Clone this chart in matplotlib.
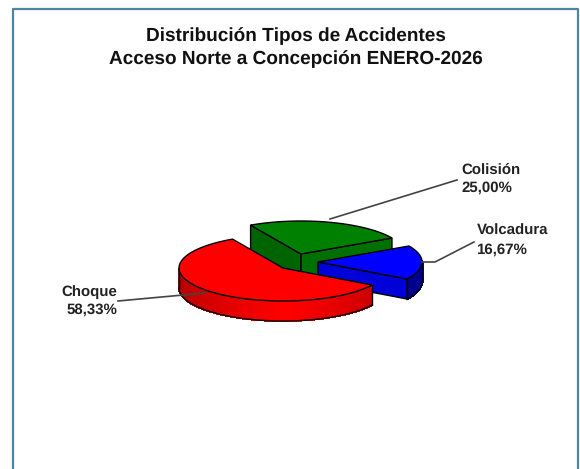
import numpy as np
import matplotlib
matplotlib.use('Agg')
import matplotlib.pyplot as plt
from matplotlib.patches import Polygon

plt.rcParams['font.family'] = ['Liberation Sans', 'DejaVu Sans']
plt.rcParams['text.hinting'] = 'none'
plt.rcParams['text.hinting_factor'] = 1

#data
title_lines = ['Distribución Tipos de Accidentes', 'Acceso Norte a Concepción ENERO-2026']
categories = ['Colisión', 'Choque', 'Volcadura']
values = [25.00, 58.33, 16.67]
value_labels = ['25,00%', '58,33%', '16,67%']

#look of the pie, in pixels of the picture
start_angle = 29
rx, ry = 104, 33
depths = {'Colisión': 30, 'Choque': 20, 'Volcadura': 20}
centers = {'Colisión': (301, 254), 'Choque': (283, 268), 'Volcadura': (318, 262)}
top_colors = {'Colisión': '#008000', 'Choque': '#ff0000', 'Volcadura': '#0000ff'}
wall_colors = {'Colisión': ['#006400', '#007000'], 'Volcadura': ['#0000d8', '#0000d8']}

fig = plt.figure(figsize=(5.8, 4.69), dpi=100)
ax = fig.add_axes([0, 0, 1, 1])
ax.set_xlim(0, 580)
ax.set_ylim(469, 0)
ax.axis('off')

#frame
ax.plot([12.5, 12.5, 578, 578], [469, 9.5, 9.5, 469], color='#4a86a3', lw=1.6, zorder=1)

#slice angles from the values
sizes = np.array(values) / sum(values) * 360
ends = start_angle + np.cumsum(sizes)
starts = ends - sizes
slices = {c: (s, e) for c, s, e in zip(categories, starts, ends)}


def pt(c, ang, drop=0):
    a = np.radians(ang)
    x0, y0 = centers[c]
    return np.array([x0 + rx * np.cos(a), y0 - ry * np.sin(a) + drop])


def arc(c, a0, a1, drop=0):
    return np.array([pt(c, a, drop) for a in np.linspace(a0, a1, 80)])


def wall(c, ang, color, z):
    x0, y0 = centers[c]
    p = pt(c, ang)
    d = depths[c]
    xy = [(x0, y0), p, p + [0, d], (x0, y0 + d)]
    ax.add_patch(Polygon(xy, closed=True, fc=color, ec='black', lw=1, zorder=z))


def rim(c, a0, a1, shade, z):
    #small strips so the side gets a gradient
    d = depths[c]
    grid = np.linspace(a0, a1, 90)
    for g0, g1 in zip(grid[:-1], grid[1:]):
        xy = np.vstack([arc(c, g0, g1), arc(c, g1, g0, d)])
        col = shade((g0 + g1) / 2)
        ax.add_patch(Polygon(xy, closed=True, fc=col, ec=col, lw=0.8, antialiased=False, zorder=z))
    ax.plot(*arc(c, a0, a1, d).T, color='black', lw=1, zorder=z + 0.1)
    ax.plot(*np.array([pt(c, a0), pt(c, a0, d)]).T, color='black', lw=1, zorder=z + 0.1)
    ax.plot(*np.array([pt(c, a1), pt(c, a1, d)]).T, color='black', lw=1, zorder=z + 0.1)


def top(c, z):
    s, e = slices[c]
    xy = np.vstack([[centers[c]], arc(c, s, e)])
    ax.add_patch(Polygon(xy, closed=True, fc=top_colors[c], ec='black', lw=1, zorder=z))


def red_shade(ang):
    #dark at both ends of the side, bright near the front
    f = 1 - abs(ang - 272) / 92
    v = 0.62 + 0.38 * max(f, 0) ** 0.8
    return (v, 0, 0)


def blue_shade(ang):
    return (0, 0, 0.56)


#green at the back
s, e = slices['Colisión']
wall('Colisión', e, wall_colors['Colisión'][0], 2)
wall('Colisión', s, wall_colors['Colisión'][1], 2)
top('Colisión', 3)

#blue on the right
s, e = slices['Volcadura']
rim('Volcadura', s, 362, blue_shade, 4)
wall('Volcadura', s, wall_colors['Volcadura'][0], 5)
top('Volcadura', 6)

#red in front
s, e = slices['Choque']
rim('Choque', 180, e, red_shade, 7)
top('Choque', 8)

#leader lines
line_x = {'Colisión': [330, 457], 'Choque': [118, 205], 'Volcadura': [422, 435, 474]}
line_y = {'Colisión': [219, 180], 'Choque': [301, 293], 'Volcadura': [262, 262, 242]}
for c in categories:
    ax.plot(line_x[c], line_y[c], color='#444444', lw=1.2, zorder=9)

#labels
label_pos = {'Colisión': (461, 170, 187.5, 'left'), 'Choque': (117, 292, 310, 'right'), 'Volcadura': (476.5, 231, 249.5, 'left')}
for c, v in zip(categories, value_labels):
    x, y0, y1, ha = label_pos[c]
    ax.text(x, y0, c, fontsize=10.9, fontweight='bold', color='#222222', ha=ha, va='center', zorder=10)
    ax.text(x, y1, v, fontsize=10.9, fontweight='bold', color='#222222', ha=ha, va='center', zorder=10)

#title
ax.text(295.5, 36, title_lines[0], fontsize=13.9, fontweight='bold', color='#111111', ha='center', va='center')
ax.text(295.5, 59, title_lines[1], fontsize=13.9, fontweight='bold', color='#111111', ha='center', va='center')

fig.savefig('out.png', dpi=100)
